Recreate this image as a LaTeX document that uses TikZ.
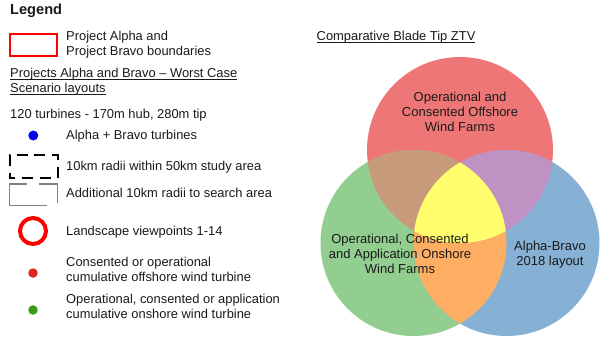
\documentclass[tikz,border=0pt]{standalone}
\usepackage{fontspec}
\setmainfont{Liberation Sans}
\newcommand\myul[1]{\setbox0\hbox{#1}\rlap{\rule[-2.4pt]{\wd0}{0.7pt}}\box0}
\definecolor{cRed}{HTML}{EE7676}
\definecolor{cGreen}{HTML}{92CE8F}
\definecolor{cBlue}{HTML}{86B1D4}
\definecolor{cRG}{HTML}{C79A7C}
\definecolor{cRB}{HTML}{C092C4}
\definecolor{cGB}{HTML}{FDAE62}
\definecolor{cAll}{HTML}{FFFF6E}
\definecolor{txt}{HTML}{1A1A1A}
\definecolor{dotRed}{HTML}{DD2525}
\definecolor{dotGreen}{HTML}{3A9A16}
\definecolor{dotBlue}{HTML}{0000EE}
\definecolor{gryline}{HTML}{808080}
\begin{document}
\begin{tikzpicture}[x=1pt,y=-1pt,
  lbl/.style={font=\fontsize{12.9}{15}\selectfont, text=txt, inner sep=0pt, align=left, anchor=base west},
  venn/.style={font=\fontsize{13}{15}\selectfont, text=txt, inner sep=0pt, align=center, anchor=base},
  dot/.style={circle, inner sep=0pt, minimum size=9.5pt}]
\useasboundingbox (0,0) rectangle (605,338);
\fill[white] (0,0) rectangle (605,338);

% ---- Legend ----
\node[lbl, font=\fontsize{14.6}{16}\selectfont\bfseries] (legend) at (10,14) {Legend};

\node[draw=red, line width=2.6pt, minimum width=47pt, minimum height=22pt, inner sep=0pt] (bnd) at (33.5,45) {};
\node[lbl] (bndt) at (66,55) {Project Alpha and\\Project Bravo boundaries};

\node[lbl] (wcs) at (10,92) {\myul{Projects Alpha and Bravo – Worst Case}\\\myul{Scenario layouts}};
\node[lbl] (tur) at (10,118) {120 turbines - 170m hub, 280m tip};

\node[dot, fill=dotBlue, minimum size=10pt] (bdot) at (33.3,135.5) {};
\node[lbl] (bdott) at (66,139) {Alpha + Bravo turbines};

\draw[black, line width=2pt, dash pattern=on 11pt off 7pt, dash phase=0pt]
  (33.5,154.5) -- (57.5,154.5) -- (57.5,178) -- (9.5,178) -- (9.5,154.5) -- (33.5,154.5);
\node[lbl] (dasht) at (66,170) {10km radii within 50km study area};

\draw[gryline, line width=1.6pt] (27,184) -- (9.5,184) -- (9.5,205.5) -- (47,205.5);
\draw[gryline, line width=1.6pt] (39,184) -- (57.5,184) -- (57.5,203);
\node[lbl] (greyt) at (66,197) {Additional 10km radii to search area};

\node[circle, draw=red, line width=4pt, minimum size=26pt, inner sep=0pt] (vp) at (33,231) {};
\node[lbl] (vpt) at (66,235) {Landscape viewpoints 1-14};

\node[dot, fill=dotRed] (rdot) at (33,273) {};
\node[lbl] (rdott) at (66,281.7) {Consented or operational\\cumulative offshore wind turbine};

\node[dot, fill=dotGreen] (gdot) at (33,310) {};
\node[lbl] (gdott) at (66,318) {Operational, consented or application\\cumulative onshore wind turbine};

% ---- Venn ----
\node[lbl] (vtitle) at (316.5,40) {\myul{Comparative Blade Tip ZTV}};

\def\cR{(460,150) circle[radius=93]}
\def\cG{(413.5,243) circle[radius=93]}
\def\cB{(506.5,243) circle[radius=93]}
\fill[cRed] \cR;
\fill[cGreen] \cG;
\fill[cBlue] \cB;
\begin{scope}\clip \cR; \fill[cRG] \cG; \end{scope}
\begin{scope}\clip \cR; \fill[cRB] \cB; \end{scope}
\begin{scope}\clip \cG; \fill[cGB] \cB; \end{scope}
\begin{scope}\clip \cR; \clip \cG; \fill[cAll] \cB; \end{scope}

\node[venn] (off) at (460,131.5) {Operational and\\Consented Offshore\\Wind Farms};
\node[venn] (on) at (400,273.5) {Operational, Consented\\and Application Onshore\\Wind Farms};
\node[venn] (ab) at (550,265) {Alpha-Bravo\\2018 layout};
\end{tikzpicture}
\end{document}
